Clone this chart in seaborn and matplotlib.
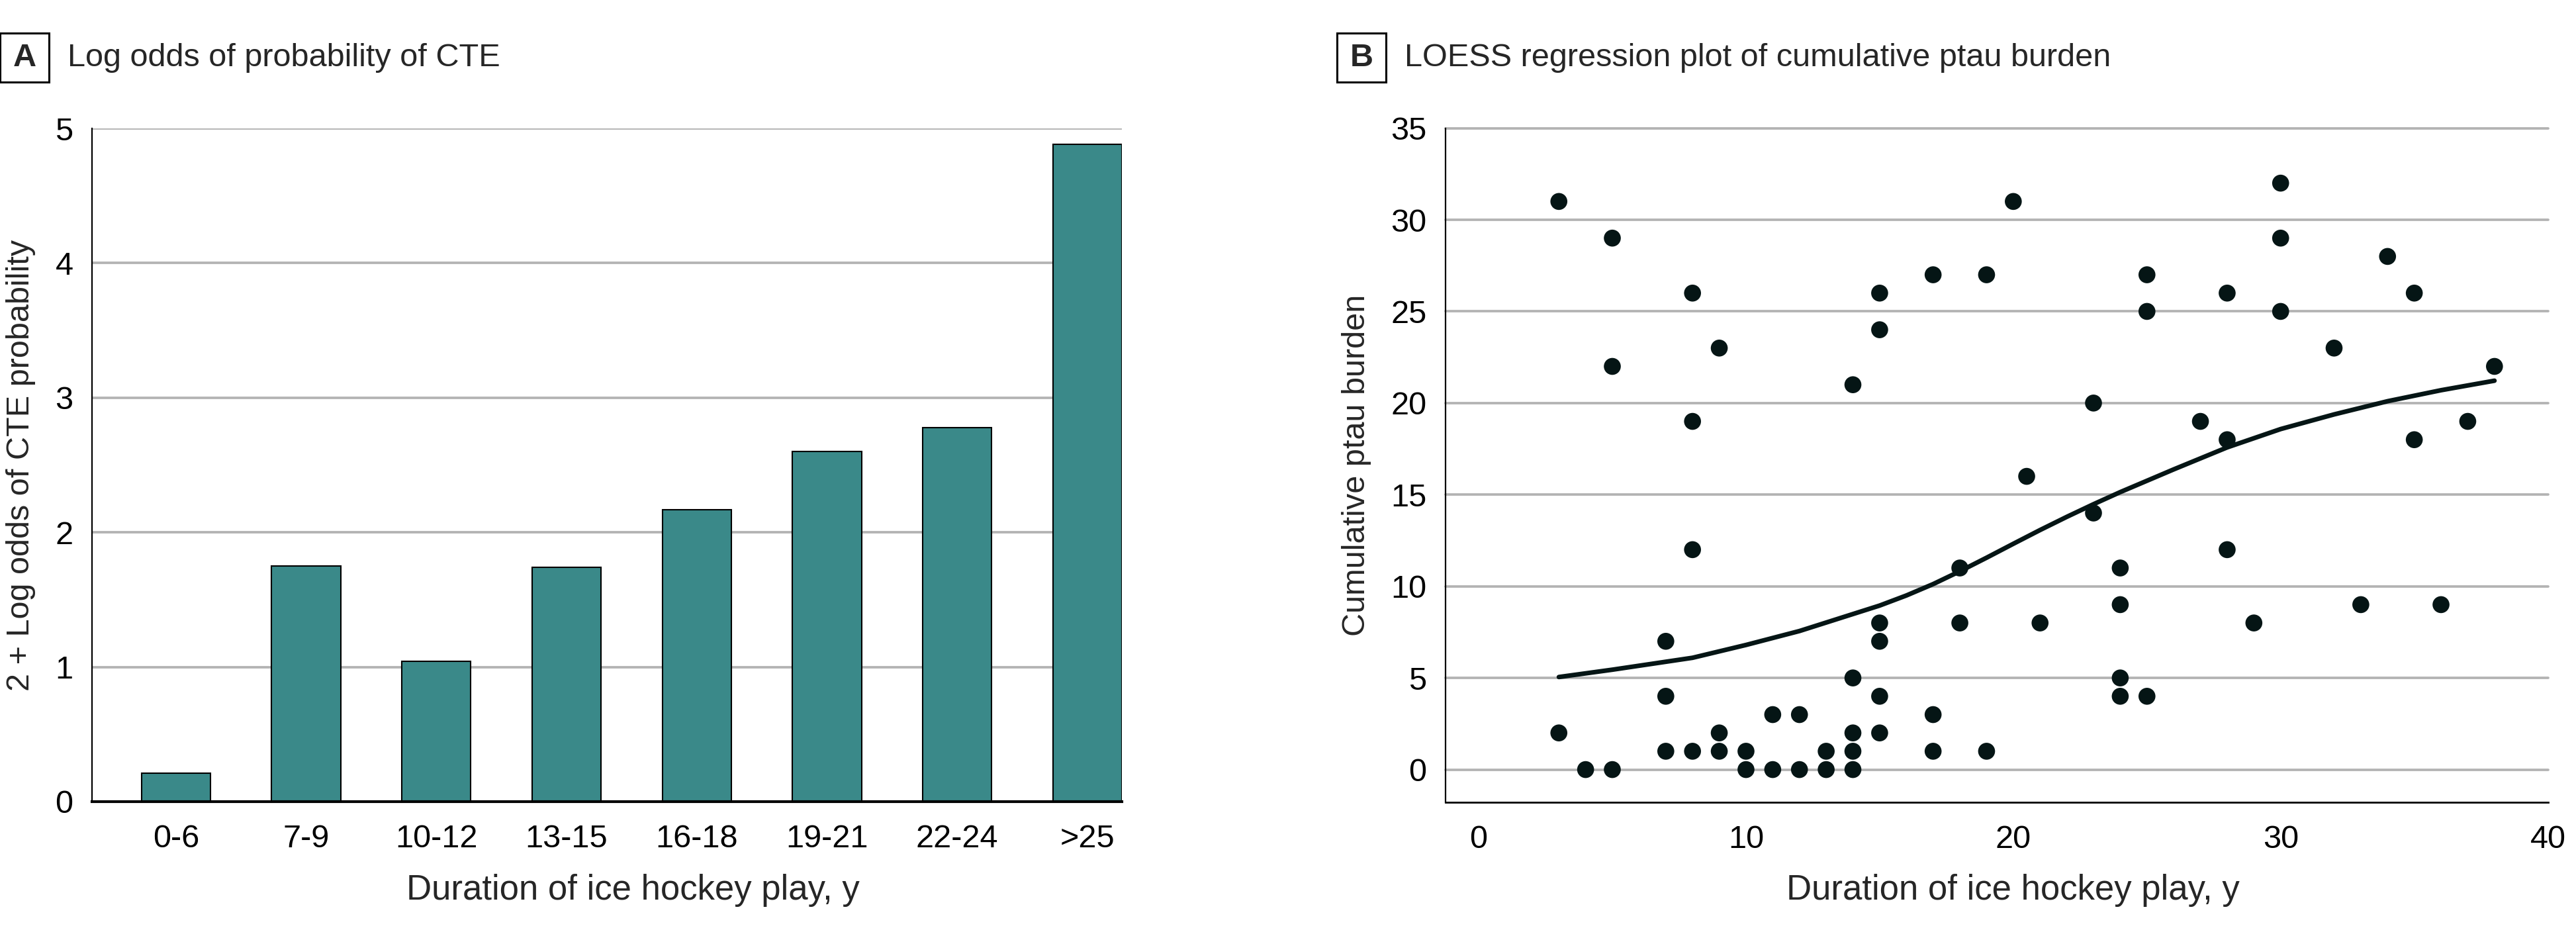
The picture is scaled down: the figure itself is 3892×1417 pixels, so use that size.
import numpy as np
import pandas as pd
import matplotlib
matplotlib.use('Agg')
import matplotlib.pyplot as plt
import matplotlib.patches as mpatches
import seaborn as sns

# panel A: log odds of CTE by duration of play
DURATION_BINS = ['0-6', '7-9', '10-12', '13-15', '16-18', '19-21', '22-24', '>25']
LOG_ODDS = [0.21, 1.75, 1.04, 1.74, 2.17, 2.60, 2.78, 4.88]

# panel B: individual players
PLAY_YEARS = [3, 5, 8, 15, 17, 19, 20, 15, 9, 5, 14, 8,
              8, 18, 7, 15, 18, 15, 14, 7, 15, 11, 12, 17, 3, 9, 14, 15,
              7, 8, 9, 10, 13, 14, 17, 19,
              4, 5, 10, 11, 12, 13, 14,
              30, 30, 34, 25, 28, 35, 25, 30, 32, 38, 23, 27, 37, 28, 35,
              20.5, 23, 28, 24, 24, 21, 29, 33, 36, 24, 24, 25]
PTAU_BURDEN = [31, 29, 26, 26, 27, 27, 31, 24, 23, 22, 21, 19,
               12, 11, 7, 8, 8, 7, 5, 4, 4, 3, 3, 3, 2, 2, 2, 2,
               1, 1, 1, 1, 1, 1, 1, 1,
               0, 0, 0, 0, 0, 0, 0,
               32, 29, 28, 27, 26, 26, 25, 25, 23, 22, 20, 19, 19, 18, 18,
               16, 14, 12, 11, 9, 8, 8, 9, 9, 5, 4, 4]

# LOESS fit
LOESS_YEARS = [3, 5, 8, 10, 12, 15, 16, 17, 18, 19, 20, 21, 22, 23, 24, 26,
               28, 30, 32, 34, 36, 38]
LOESS_FIT = [5.05, 5.45, 6.1, 6.8, 7.56, 8.95, 9.5, 10.12, 10.82, 11.56, 12.32,
             13.07, 13.79, 14.48, 15.14, 16.38, 17.58, 18.58, 19.38, 20.1, 20.7, 21.22]

BAR_COLOR = '#3a8989'
DOT_COLOR = '#051515'
GRID_COLOR = '#b3b3b3'
FS = 35
XLABEL_FS = 38

sns.set_style('white')
plt.rcParams['font.family'] = ['Liberation Sans', 'DejaVu Sans']

W, H = 3892, 1417
fig = plt.figure(figsize=(W / 100, H / 100), dpi=100)


def px_axes(left, top, right, bottom):
    return fig.add_axes([left / W, 1 - bottom / H, (right - left) / W, (bottom - top) / H])


def style_axes(ax, bottom_lw):
    ax.set_axisbelow(True)
    ax.yaxis.grid(True, color=GRID_COLOR, linewidth=2.7)
    ax.xaxis.grid(False)
    sns.despine(ax=ax)
    ax.spines['left'].set_linewidth(1.6)
    ax.spines['bottom'].set_linewidth(bottom_lw)
    ax.spines['left'].set_color('black')
    ax.spines['bottom'].set_color('black')
    ax.tick_params(axis='both', which='major', direction='out', length=11.5,
                   width=1.5, color='black', labelsize=FS, labelcolor='black')
    ax.tick_params(axis='y', pad=9)
    ax.tick_params(axis='x', pad=13)


def panel_title(x_box, letter, text):
    box_w, box_h, y_top = 74, 74, 50
    fig.patches.append(mpatches.Rectangle(
        (x_box / W, 1 - (y_top + box_h) / H), box_w / W, box_h / H,
        transform=fig.transFigure, fill=False, edgecolor='black', linewidth=2.2))
    yc = 1 - (y_top + box_h / 2) / H
    fig.text((x_box + box_w / 2) / W, yc, letter, ha='center', va='center',
             fontsize=FS, fontweight='bold')
    fig.text((x_box + box_w + 28) / W, yc, text, ha='left', va='center', fontsize=FS)


# ---- panel A ----
ax_a = px_axes(139, 194, 1695, 1211)
bars = pd.DataFrame({'bin': DURATION_BINS, 'log_odds': LOG_ODDS})
sns.barplot(data=bars, x='bin', y='log_odds', order=DURATION_BINS, color=BAR_COLOR,
            saturation=1, width=0.53, edgecolor='black', linewidth=1.5, ax=ax_a)
ax_a.set_xlim(-0.645, 7.265)
ax_a.set_ylim(0, 5)
ax_a.set_yticks(range(0, 6))
style_axes(ax_a, 3.0)
ax_a.set_xlabel('Duration of ice hockey play, y', fontsize=XLABEL_FS)
ax_a.set_ylabel('2 + Log odds of CTE probability', fontsize=FS)
ax_a.xaxis.set_label_coords(0.525, -0.132)
ax_a.xaxis.label.set_va('center')
ax_a.yaxis.set_label_coords(-0.0688, 0.5)
ax_a.yaxis.label.set_va('center')

# ---- panel B ----
ax_b = px_axes(2184, 193.6, 3849.6, 1212.4)
players = pd.DataFrame({'years': PLAY_YEARS, 'ptau': PTAU_BURDEN})
loess = pd.DataFrame({'years': LOESS_YEARS, 'fit': LOESS_FIT})
sns.scatterplot(data=players, x='years', y='ptau', color=DOT_COLOR, s=340,
                edgecolor='none', ax=ax_b, zorder=3)
sns.lineplot(data=loess, x='years', y='fit', color=DOT_COLOR, linewidth=5,
             ax=ax_b, zorder=4)
ax_b.set_xlim(-1.24, 40)
ax_b.set_ylim(-1.8, 35)
ax_b.set_xticks(range(0, 41, 10))
ax_b.set_yticks(range(0, 36, 5))
style_axes(ax_b, 2.0)
for gl in ax_b.get_ygridlines():
    gl.set_clip_on(False)
ax_b.set_xlabel('Duration of ice hockey play, y', fontsize=XLABEL_FS)
ax_b.set_ylabel('Cumulative ptau burden', fontsize=FS)
ax_b.xaxis.set_label_coords(0.515, -0.1306)
ax_b.xaxis.label.set_va('center')
ax_b.yaxis.set_label_coords(-0.0805, 0.5)
ax_b.yaxis.label.set_va('center')

panel_title(0, 'A', 'Log odds of probability of CTE')
panel_title(2020, 'B', 'LOESS regression plot of cumulative ptau burden')

fig.savefig('out.png', dpi=100)
